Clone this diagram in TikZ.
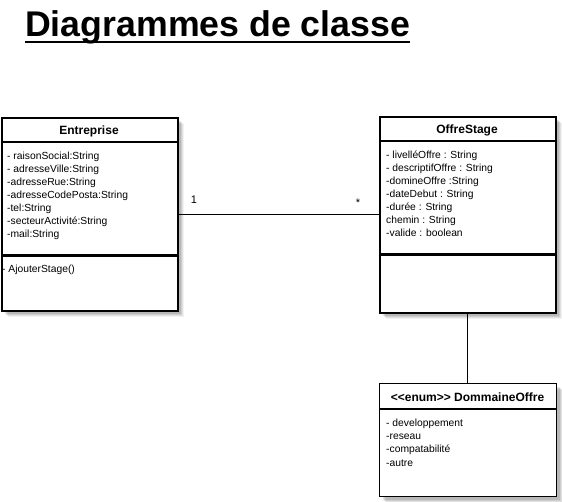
\documentclass[tikz,border=0pt]{standalone}
\usepackage{fontspec}
\setmainfont{Liberation Sans}
\usetikzlibrary{shadows}
\begin{document}
\begin{tikzpicture}[x=1pt,y=-1pt,
  softshadow/.style={
    general shadow={fill=black,opacity=0.05,shadow xshift=6pt,shadow yshift=-6pt},
    general shadow={fill=black,opacity=0.07,shadow xshift=5pt,shadow yshift=-5pt},
    general shadow={fill=black,opacity=0.09,shadow xshift=4pt,shadow yshift=-4pt},
    general shadow={fill=black,opacity=0.10,shadow xshift=3pt,shadow yshift=-3pt}},
  classbox/.style={draw,line width=1.8pt,fill=white,rectangle,inner sep=0pt,
    anchor=north west,softshadow},
  enumbox/.style={classbox,line width=1.2pt},
  hdr/.style={font=\fontsize{12}{14}\selectfont\bfseries,anchor=base,inner sep=0pt},
  attr/.style={font=\fontsize{10.3}{12}\selectfont,anchor=base west,inner sep=0pt},
  sep/.style={line width=1.8pt},
  thicksep/.style={line width=3pt},
  thinsep/.style={line width=1.2pt},
  link/.style={line width=0.9pt},
  mult/.style={font=\fontsize{11}{13}\selectfont,inner sep=0pt}]
\useasboundingbox (0,0) rectangle (562,501);

% title
\node[font=\fontsize{35.7}{40}\selectfont\bfseries,anchor=base west,inner sep=0pt] (title) at (25,36) {Diagrammes de classe};
\draw[line width=2pt] (title.base west |- 0,41.5) -- (title.base east |- 0,41.5);

% boxes
\node[classbox,minimum width=176pt,minimum height=193pt] (ent) at (1,117) {};
\node[classbox,minimum width=176pt,minimum height=196pt] (off) at (379,116) {};
\node[enumbox,minimum width=177pt,minimum height=113pt] (dom) at (379,383) {};

% compartments
\draw[sep] (ent.west |- 0,142) -- (ent.east |- 0,142);
\draw[thicksep] (ent.west |- 0,255) -- (ent.east |- 0,255);
\draw[sep] (off.west |- 0,141) -- (off.east |- 0,141);
\draw[thicksep] (off.west |- 0,254) -- (off.east |- 0,254);
\draw[thinsep] (dom.west |- 0,409) -- (dom.east |- 0,409);

% headers
\node[hdr] (entname) at (89,134) {Entreprise};
\node[hdr] (offname) at (467,133) {OffreStage};
\node[hdr] (domname) at (467.5,401.5) {<{}<enum>{}> DommaineOffre};

% Entreprise attributes
\node[attr] (e1) at (7,159) {- raisonSocial:String};
\node[attr] (e2) at (7,172) {- adresseVille:String};
\node[attr] (e3) at (7,185) {-adresseRue:String};
\node[attr] (e4) at (7,198) {-adresseCodePosta:String};
\node[attr] (e5) at (7,211) {-tel:String};
\node[attr] (e6) at (7,224) {-secteurActivité:String};
\node[attr] (e7) at (7,237) {-mail:String};
\node[attr] (e8) at (2,272) {- AjouterStage()};

% OffreStage attributes
\node[attr] (o1) at (386,158.5) {- livelléOffre : String};
\node[attr] (o2) at (386,171.5) {- descriptifOffre : String};
\node[attr] (o3) at (386,184.5) {-domineOffre :String};
\node[attr] (o4) at (386,197.5) {-dateDebut : String};
\node[attr] (o5) at (386,210.5) {-durée : String};
\node[attr] (o6) at (386,223.5) {chemin : String};
\node[attr] (o7) at (386,236.5) {-valide : boolean};

% enum values
\node[attr] (d1) at (386,426) {- developpement};
\node[attr] (d2) at (386,439) {-reseau};
\node[attr] (d3) at (386,452.5) {-compatabilité};
\node[attr] (d4) at (386,466) {-autre};

% connectors
\coordinate (lk) at (0,214);
\draw[link] (ent.east |- lk) -- (off.west |- lk);
\draw[link] (off.south) -- (off.south |- dom.north);
\node[mult] (m1) at (194,200) {1};
\node[mult] (m2) at (358,203) {*};
\end{tikzpicture}
\end{document}
